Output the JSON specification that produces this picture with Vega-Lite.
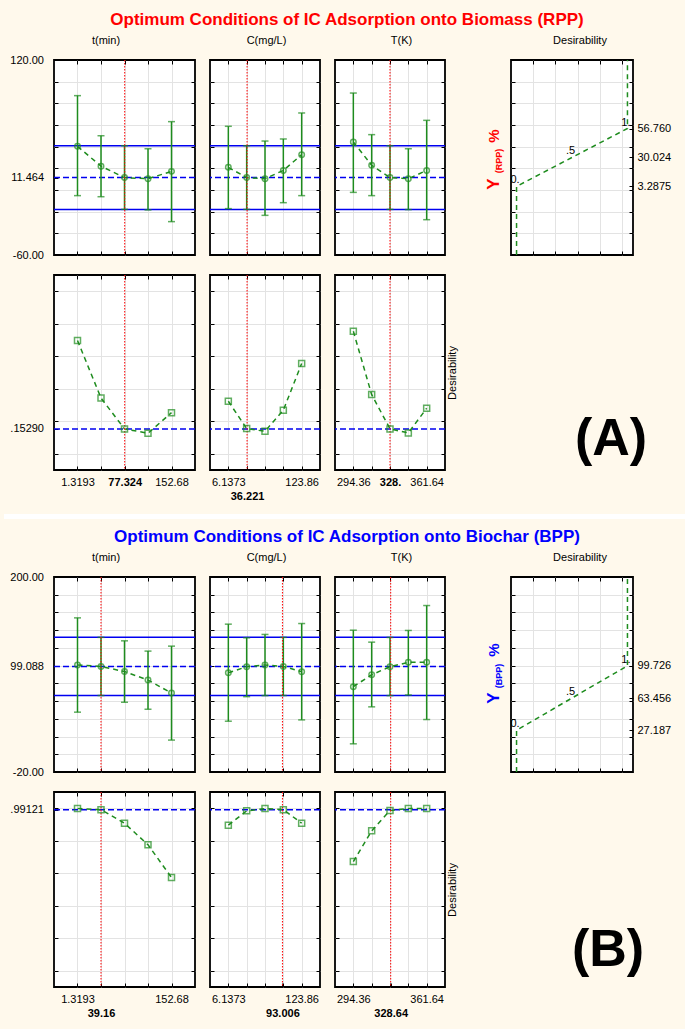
{
"$schema": "https://vega.github.io/schema/vega-lite/v6.json",
"background": "#FFF9EC",
"padding": 0,
"columns": 5,
"spacing": {"row": 20, "column": 15},
"bounds": "flush",
"config": {
  "font": "Liberation Sans",
  "view": {"fill": "white", "stroke": "black", "strokeWidth": 1.8},
  "axis": {"domain": false, "tickSize": -4, "tickColor": "black", "tickWidth": 1, "labelFont": "Liberation Sans", "labelFontSize": 11, "labelColor": "black", "labelPadding": 10, "labelOverlap": false, "labelBound": false, "labelFlush": false, "labelLineHeight": 14, "gridColor": "#E3E3E3", "gridWidth": 1, "minExtent": 0},
  "axisLeft": {"labelPadding": 14.5},
  "axisRight": {"labelPadding": 8}
},
"concat": [
{
 "width": 141, "height": 38, "view": {"fill": "transparent", "stroke": "transparent"},
 "data": {"values": [{}]},
 "layer": [
  {"mark": {"type": "rule", "color": "#FFF9EC", "strokeWidth": 0.5}, "encoding": {"x": {"datum": -0.3546, "type": "quantitative", "scale": {"domain": [0, 1]}, "axis": null}, "x2": {"datum": 4.5035}, "y": {"datum": 1, "type": "quantitative", "scale": {"domain": [0, 1]}, "axis": null}}},
  {"mark": {"type": "text", "text": "Optimum Conditions of IC Adsorption onto Biomass (RPP)", "fontSize": 17, "fontWeight": "bold", "color": "#FF0000", "align": "center", "baseline": "alphabetic"}, "encoding": {"x": {"datum": 2.078, "type": "quantitative", "scale": {"domain": [0, 1]}, "axis": null}, "y": {"datum": 0.395, "type": "quantitative", "scale": {"domain": [0, 1]}, "axis": null}}}
 ]
},
{"width": 10, "height": 10, "view": {"fill": "transparent", "stroke": "transparent"}, "data": {"values": [{}]}, "mark": {"type": "text", "text": ""}},
{"width": 10, "height": 10, "view": {"fill": "transparent", "stroke": "transparent"}, "data": {"values": [{}]}, "mark": {"type": "text", "text": ""}},
{"width": 10, "height": 10, "view": {"fill": "transparent", "stroke": "transparent"}, "data": {"values": [{}]}, "mark": {"type": "text", "text": ""}},
{"width": 10, "height": 10, "view": {"fill": "transparent", "stroke": "transparent"}, "data": {"values": [{}]}, "mark": {"type": "text", "text": ""}},
{
 "width": 141, "height": 195,
 "data": {"values": [{"x":1.3193,"m":40.3,"lo":-5.2,"hi":87.1},{"x":39.16,"m":22.0,"lo":-6.2,"hi":50.1},{"x":77.0,"m":11.464,"lo":-17.9,"hi":40.9},{"x":114.84,"m":10.4,"lo":-18.4,"hi":38.1},{"x":152.68,"m":17.2,"lo":-29.2,"hi":63.1}]},
 "layer": [
  {"data": {"values": [{}]}, "mark": {"type": "rule", "color": "#0000F0", "strokeWidth": 1.5}, "encoding": {"y": {"datum": 40.9, "type": "quantitative", "axis": null}}},
  {"data": {"values": [{}]}, "mark": {"type": "rule", "color": "#0000F0", "strokeWidth": 1.5}, "encoding": {"y": {"datum": -17.9, "type": "quantitative", "axis": null}}},
  {"data": {"values": [{}]}, "mark": {"type": "rule", "color": "#0000F0", "strokeWidth": 1.5, "strokeDash": [6, 3]}, "encoding": {"y": {"datum": 11.464, "type": "quantitative", "axis": null}}},
  {"mark": {"type": "rule", "color": "#1E8C1E", "strokeWidth": 1.5}, "encoding": {"x": {"field": "x", "type": "quantitative", "axis": null}, "y": {"field": "lo", "type": "quantitative", "axis": null}, "y2": {"field": "hi"}}},
  {"mark": {"type": "point", "shape": "M-1,0L1,0", "size": 49, "color": "#1E8C1E", "strokeWidth": 1.5}, "encoding": {"x": {"field": "x", "type": "quantitative", "axis": null}, "y": {"field": "lo", "type": "quantitative", "axis": null}}},
  {"mark": {"type": "point", "shape": "M-1,0L1,0", "size": 49, "color": "#1E8C1E", "strokeWidth": 1.5}, "encoding": {"x": {"field": "x", "type": "quantitative", "axis": null}, "y": {"field": "hi", "type": "quantitative", "axis": null}}},
  {"mark": {"type": "line", "color": "#1E8C1E", "strokeWidth": 1.5, "strokeDash": [5, 4]}, "encoding": {"x": {"field": "x", "type": "quantitative", "scale": {"domain": [-36.52, 190.52], "nice": false, "zero": false}, "axis": {"orient": "bottom", "values": [1.3193,39.16,77.0,114.84,152.68], "labels": false, "grid": false, "title": null}}, "y": {"field": "m", "type": "quantitative", "scale": {"domain": [-60, 120], "nice": false, "zero": false}, "axis": {"orient": "left", "values": [-60,-40,-20,0,20,40,60,80,100,120,11.464], "labelExpr": "datum.value==120?'120.00':datum.value==-60?'-60.00':datum.value==11.464?'11.464':''", "grid": false, "title": null}}}},
  {"data": {"values": [{}]}, "mark": {"type": "rule", "color": "#FF0000", "strokeWidth": 1, "strokeDash": [1.5, 1.5]}, "encoding": {"x": {"datum": 77.324, "type": "quantitative", "axis": null}}},
  {"mark": {"type": "point", "shape": "circle", "size": 30, "color": "#1E8C1E", "strokeWidth": 1.5, "filled": false}, "encoding": {"x": {"field": "x", "type": "quantitative", "axis": {"orient": "top", "values": [1.3193,39.16,77.0,114.84,152.68], "labels": false, "grid": true, "title": null}}, "y": {"field": "m", "type": "quantitative", "axis": {"orient": "right", "values": [-40,-20,0,20,40,60,80,100], "labels": false, "grid": true, "title": null}}}},
  {"data": {"values": [{}]}, "mark": {"type": "text", "text": "t(min)", "fontSize": 11, "align": "center", "baseline": "alphabetic", "color": "black"}, "encoding": {"x": {"datum": 47.2, "type": "quantitative", "axis": null}, "y": {"datum": 134.8, "type": "quantitative", "axis": null}}}
 ],
 "resolve": {"axis": {"x": "independent", "y": "independent"}}
},
{
 "width": 110, "height": 195,
 "data": {"values": [{"x":6.1373,"m":20.9,"lo":-17.2,"hi":58.8},{"x":35.568,"m":11.5,"lo":-17.9,"hi":40.9},{"x":64.998,"m":10.4,"lo":-23.4,"hi":45.2},{"x":94.429,"m":18.1,"lo":-11.7,"hi":47.1},{"x":123.86,"m":32.6,"lo":-5.2,"hi":71.1}]},
 "layer": [
  {"data": {"values": [{}]}, "mark": {"type": "rule", "color": "#0000F0", "strokeWidth": 1.5}, "encoding": {"y": {"datum": 40.9, "type": "quantitative", "axis": null}}},
  {"data": {"values": [{}]}, "mark": {"type": "rule", "color": "#0000F0", "strokeWidth": 1.5}, "encoding": {"y": {"datum": -17.9, "type": "quantitative", "axis": null}}},
  {"data": {"values": [{}]}, "mark": {"type": "rule", "color": "#0000F0", "strokeWidth": 1.5, "strokeDash": [6, 3]}, "encoding": {"y": {"datum": 11.464, "type": "quantitative", "axis": null}}},
  {"mark": {"type": "rule", "color": "#1E8C1E", "strokeWidth": 1.5}, "encoding": {"x": {"field": "x", "type": "quantitative", "axis": null}, "y": {"field": "lo", "type": "quantitative", "axis": null}, "y2": {"field": "hi"}}},
  {"mark": {"type": "point", "shape": "M-1,0L1,0", "size": 49, "color": "#1E8C1E", "strokeWidth": 1.5}, "encoding": {"x": {"field": "x", "type": "quantitative", "axis": null}, "y": {"field": "lo", "type": "quantitative", "axis": null}}},
  {"mark": {"type": "point", "shape": "M-1,0L1,0", "size": 49, "color": "#1E8C1E", "strokeWidth": 1.5}, "encoding": {"x": {"field": "x", "type": "quantitative", "axis": null}, "y": {"field": "hi", "type": "quantitative", "axis": null}}},
  {"mark": {"type": "line", "color": "#1E8C1E", "strokeWidth": 1.5, "strokeDash": [5, 4]}, "encoding": {"x": {"field": "x", "type": "quantitative", "scale": {"domain": [-23.29, 153.29], "nice": false, "zero": false}, "axis": {"orient": "bottom", "values": [6.1373,35.568,64.998,94.429,123.86], "labels": false, "grid": false, "title": null}}, "y": {"field": "m", "type": "quantitative", "scale": {"domain": [-60, 120], "nice": false, "zero": false}, "axis": {"orient": "left", "values": [-40,-20,0,20,40,60,80,100], "labels": false, "grid": false, "title": null}}}},
  {"data": {"values": [{}]}, "mark": {"type": "rule", "color": "#FF0000", "strokeWidth": 1, "strokeDash": [1.5, 1.5]}, "encoding": {"x": {"datum": 36.221, "type": "quantitative", "axis": null}}},
  {"mark": {"type": "point", "shape": "circle", "size": 30, "color": "#1E8C1E", "strokeWidth": 1.5, "filled": false}, "encoding": {"x": {"field": "x", "type": "quantitative", "axis": {"orient": "top", "values": [6.1373,35.568,64.998,94.429,123.86], "labels": false, "grid": true, "title": null}}, "y": {"field": "m", "type": "quantitative", "axis": {"orient": "right", "values": [-40,-20,0,20,40,60,80,100], "labels": false, "grid": true, "title": null}}}},
  {"data": {"values": [{}]}, "mark": {"type": "text", "text": "C(mg/L)", "fontSize": 11, "align": "center", "baseline": "alphabetic", "color": "black"}, "encoding": {"x": {"datum": 67.4, "type": "quantitative", "axis": null}, "y": {"datum": 134.8, "type": "quantitative", "axis": null}}}
 ],
 "resolve": {"axis": {"x": "independent", "y": "independent"}}
},
{
 "width": 110, "height": 195,
 "data": {"values": [{"x":294.36,"m":44.3,"lo":-2.2,"hi":89.5},{"x":311.18,"m":22.8,"lo":-5.2,"hi":51.1},{"x":328.0,"m":11.464,"lo":-17.9,"hi":40.9},{"x":344.82,"m":10.4,"lo":-18.1,"hi":38.1},{"x":361.64,"m":18.1,"lo":-27.4,"hi":64.3}]},
 "layer": [
  {"data": {"values": [{}]}, "mark": {"type": "rule", "color": "#0000F0", "strokeWidth": 1.5}, "encoding": {"y": {"datum": 40.9, "type": "quantitative", "axis": null}}},
  {"data": {"values": [{}]}, "mark": {"type": "rule", "color": "#0000F0", "strokeWidth": 1.5}, "encoding": {"y": {"datum": -17.9, "type": "quantitative", "axis": null}}},
  {"data": {"values": [{}]}, "mark": {"type": "rule", "color": "#0000F0", "strokeWidth": 1.5, "strokeDash": [6, 3]}, "encoding": {"y": {"datum": 11.464, "type": "quantitative", "axis": null}}},
  {"mark": {"type": "rule", "color": "#1E8C1E", "strokeWidth": 1.5}, "encoding": {"x": {"field": "x", "type": "quantitative", "axis": null}, "y": {"field": "lo", "type": "quantitative", "axis": null}, "y2": {"field": "hi"}}},
  {"mark": {"type": "point", "shape": "M-1,0L1,0", "size": 49, "color": "#1E8C1E", "strokeWidth": 1.5}, "encoding": {"x": {"field": "x", "type": "quantitative", "axis": null}, "y": {"field": "lo", "type": "quantitative", "axis": null}}},
  {"mark": {"type": "point", "shape": "M-1,0L1,0", "size": 49, "color": "#1E8C1E", "strokeWidth": 1.5}, "encoding": {"x": {"field": "x", "type": "quantitative", "axis": null}, "y": {"field": "hi", "type": "quantitative", "axis": null}}},
  {"mark": {"type": "line", "color": "#1E8C1E", "strokeWidth": 1.5, "strokeDash": [5, 4]}, "encoding": {"x": {"field": "x", "type": "quantitative", "scale": {"domain": [277.54, 378.46], "nice": false, "zero": false}, "axis": {"orient": "bottom", "values": [294.36,311.18,328.0,344.82,361.64], "labels": false, "grid": false, "title": null}}, "y": {"field": "m", "type": "quantitative", "scale": {"domain": [-60, 120], "nice": false, "zero": false}, "axis": {"orient": "left", "values": [-40,-20,0,20,40,60,80,100], "labels": false, "grid": false, "title": null}}}},
  {"data": {"values": [{}]}, "mark": {"type": "rule", "color": "#FF0000", "strokeWidth": 1, "strokeDash": [1.5, 1.5]}, "encoding": {"x": {"datum": 328.0, "type": "quantitative", "axis": null}}},
  {"mark": {"type": "point", "shape": "circle", "size": 30, "color": "#1E8C1E", "strokeWidth": 1.5, "filled": false}, "encoding": {"x": {"field": "x", "type": "quantitative", "axis": {"orient": "top", "values": [294.36,311.18,328.0,344.82,361.64], "labels": false, "grid": true, "title": null}}, "y": {"field": "m", "type": "quantitative", "axis": {"orient": "right", "values": [-40,-20,0,20,40,60,80,100], "labels": false, "grid": true, "title": null}}}},
  {"data": {"values": [{}]}, "mark": {"type": "text", "text": "T(K)", "fontSize": 11, "align": "center", "baseline": "alphabetic", "color": "black"}, "encoding": {"x": {"datum": 338.5, "type": "quantitative", "axis": null}, "y": {"datum": 134.8, "type": "quantitative", "axis": null}}}
 ],
 "resolve": {"axis": {"x": "independent", "y": "independent"}}
},
{"width": 36, "height": 195, "view": {"fill": "transparent", "stroke": "transparent"}, "data": {"values": [{}]}, "mark": {"type": "text", "text": ""}},
{
 "width": 122, "height": 195,
 "data": {"values": [{"i":0,"d":0,"y":-60},{"i":1,"d":0,"y":3.2875,"lab":"0."},{"i":2,"d":0.5,"y":30.024,"lab":".5"},{"i":3,"d":1,"y":56.76,"lab":"1."},{"i":4,"d":1,"y":120}]},
 "layer": [
  {"mark": {"type": "line", "color": "#1E8C1E", "strokeWidth": 1.5, "strokeDash": [5, 4]}, "encoding": {"x": {"field": "d", "type": "quantitative", "scale": {"domain": [-0.05, 1.05], "nice": false, "zero": false}, "axis": {"orient": "bottom", "values": [0.15,0.35,0.55,0.75,0.95], "labels": false, "grid": true, "title": null}}, "y": {"field": "y", "type": "quantitative", "scale": {"domain": [-60, 120], "nice": false, "zero": false}, "axis": {"orient": "left", "values": [-40,-20,0,20,40,60,80,100], "labels": false, "grid": true, "title": null}}, "order": {"field": "i", "type": "quantitative"}}},
  {"transform": [{"filter": "datum.lab"}], "mark": {"type": "text", "fontSize": 11, "align": "center", "baseline": "alphabetic", "dx": -1.5, "dy": -3, "color": "black"}, "encoding": {"x": {"field": "d", "type": "quantitative", "axis": {"orient": "top", "values": [0.15,0.35,0.55,0.75,0.95], "labels": false, "grid": false, "title": null}}, "y": {"field": "y", "type": "quantitative", "axis": {"orient": "right", "values": [-40,-20,0,20,40,60,80,100,56.76,30.024,3.2875], "labelExpr": "datum.value==56.76?'56.760':datum.value==30.024?'30.024':datum.value==3.2875?'3.2875':''", "grid": false, "title": null}}, "text": {"field": "lab"}}},
  {"data": {"values": [{}]}, "mark": {"type": "text", "text": "Y", "angle": 270, "fontSize": 17, "fontWeight": "bold", "color": "#FF0000", "align": "center", "baseline": "alphabetic"}, "encoding": {"x": {"datum": -0.158, "type": "quantitative", "axis": null}, "y": {"datum": 5.5, "type": "quantitative", "axis": null}}},
  {"data": {"values": [{}]}, "mark": {"type": "text", "text": "(RPP)", "angle": 270, "fontSize": 9, "fontWeight": "bold", "color": "#FF0000", "align": "center", "baseline": "alphabetic"}, "encoding": {"x": {"datum": -0.134, "type": "quantitative", "axis": null}, "y": {"datum": 26.8, "type": "quantitative", "axis": null}}},
  {"data": {"values": [{}]}, "mark": {"type": "text", "text": "%", "angle": 270, "fontSize": 15, "fontWeight": "bold", "color": "#FF0000", "align": "center", "baseline": "alphabetic"}, "encoding": {"x": {"datum": -0.158, "type": "quantitative", "axis": null}, "y": {"datum": 49.8, "type": "quantitative", "axis": null}}},
  {"data": {"values": [{}]}, "mark": {"type": "text", "text": "Desirability", "fontSize": 11, "align": "center", "baseline": "alphabetic", "color": "black"}, "encoding": {"x": {"datum": 0.572, "type": "quantitative", "axis": null}, "y": {"datum": 134.8, "type": "quantitative", "axis": null}}}
 ],
 "resolve": {"axis": {"x": "independent", "y": "independent"}}
},
{
 "width": 141, "height": 195,
 "data": {"values": [{"x":1.3193,"d":0.697},{"x":39.16,"d":0.343},{"x":77.0,"d":0.1529},{"x":114.84,"d":0.126},{"x":152.68,"d":0.253}]},
 "layer": [
  {"data": {"values": [{}]}, "mark": {"type": "rule", "color": "#0000F0", "strokeWidth": 1.5, "strokeDash": [6, 3]}, "encoding": {"y": {"datum": 0.1529, "type": "quantitative", "axis": null}}},
  {"mark": {"type": "line", "color": "#1E8C1E", "strokeWidth": 1.5, "strokeDash": [5, 4]}, "encoding": {"x": {"field": "x", "type": "quantitative", "scale": {"domain": [-36.52, 190.52], "nice": false, "zero": false}, "axis": {"orient": "bottom", "values": [1.3193,39.16,77.0,114.84,152.68,77.324], "labelExpr": "datum.value==1.3193?'1.3193':datum.value==152.68?'152.68':datum.value==77.324?'77.324':''", "labelFontWeight": {"condition": {"test": "datum.value==77.324", "value": "bold"}, "value": "normal"}, "grid": false, "title": null}}, "y": {"field": "d", "type": "quantitative", "scale": {"domain": [-0.1, 1.1], "nice": false, "zero": false}, "axis": {"orient": "left", "values": [0,0.2,0.4,0.6,0.8,1,0.1529], "labelExpr": "datum.value==0.1529?'.15290':''", "grid": false, "title": null}}}},
  {"data": {"values": [{}]}, "mark": {"type": "rule", "color": "#FF0000", "strokeWidth": 1, "strokeDash": [1.5, 1.5]}, "encoding": {"x": {"datum": 77.324, "type": "quantitative", "axis": null}}},
  {"mark": {"type": "point", "shape": "square", "size": 36, "color": "#1E8C1E", "strokeWidth": 1.5, "filled": false}, "encoding": {"x": {"field": "x", "type": "quantitative", "axis": {"orient": "top", "values": [1.3193,39.16,77.0,114.84,152.68], "labels": false, "grid": true, "title": null}}, "y": {"field": "d", "type": "quantitative", "axis": {"orient": "right", "values": [0,0.2,0.4,0.6,0.8,1], "labels": false, "grid": true, "title": null}}}}
 ],
 "resolve": {"axis": {"x": "independent", "y": "independent"}}
},
{
 "width": 110, "height": 195,
 "data": {"values": [{"x":6.1373,"d":0.323},{"x":35.568,"d":0.155},{"x":64.998,"d":0.138},{"x":94.429,"d":0.268},{"x":123.86,"d":0.555}]},
 "layer": [
  {"data": {"values": [{}]}, "mark": {"type": "rule", "color": "#0000F0", "strokeWidth": 1.5, "strokeDash": [6, 3]}, "encoding": {"y": {"datum": 0.1529, "type": "quantitative", "axis": null}}},
  {"mark": {"type": "line", "color": "#1E8C1E", "strokeWidth": 1.5, "strokeDash": [5, 4]}, "encoding": {"x": {"field": "x", "type": "quantitative", "scale": {"domain": [-23.29, 153.29], "nice": false, "zero": false}, "axis": {"orient": "bottom", "values": [6.1373,35.568,64.998,94.429,123.86,36.221], "labelExpr": "datum.value==6.1373?'6.1373':datum.value==123.86?'123.86':datum.value==36.221?['','36.221']:''", "labelFontWeight": {"condition": {"test": "datum.value==36.221", "value": "bold"}, "value": "normal"}, "grid": false, "title": null}}, "y": {"field": "d", "type": "quantitative", "scale": {"domain": [-0.1, 1.1], "nice": false, "zero": false}, "axis": {"orient": "left", "values": [0,0.2,0.4,0.6,0.8,1], "labels": false, "grid": false, "title": null}}}},
  {"data": {"values": [{}]}, "mark": {"type": "rule", "color": "#FF0000", "strokeWidth": 1, "strokeDash": [1.5, 1.5]}, "encoding": {"x": {"datum": 36.221, "type": "quantitative", "axis": null}}},
  {"mark": {"type": "point", "shape": "square", "size": 36, "color": "#1E8C1E", "strokeWidth": 1.5, "filled": false}, "encoding": {"x": {"field": "x", "type": "quantitative", "axis": {"orient": "top", "values": [6.1373,35.568,64.998,94.429,123.86], "labels": false, "grid": true, "title": null}}, "y": {"field": "d", "type": "quantitative", "axis": {"orient": "right", "values": [0,0.2,0.4,0.6,0.8,1], "labels": false, "grid": true, "title": null}}}}
 ],
 "resolve": {"axis": {"x": "independent", "y": "independent"}}
},
{
 "width": 110, "height": 195,
 "data": {"values": [{"x":294.36,"d":0.754},{"x":311.18,"d":0.364},{"x":328.0,"d":0.1529},{"x":344.82,"d":0.128},{"x":361.64,"d":0.28}]},
 "layer": [
  {"data": {"values": [{}]}, "mark": {"type": "rule", "color": "#0000F0", "strokeWidth": 1.5, "strokeDash": [6, 3]}, "encoding": {"y": {"datum": 0.1529, "type": "quantitative", "axis": null}}},
  {"mark": {"type": "line", "color": "#1E8C1E", "strokeWidth": 1.5, "strokeDash": [5, 4]}, "encoding": {"x": {"field": "x", "type": "quantitative", "scale": {"domain": [277.54, 378.46], "nice": false, "zero": false}, "axis": {"orient": "bottom", "values": [294.36,311.18,328.0,344.82,361.64], "labelExpr": "datum.value==294.36?'294.36':datum.value==361.64?'361.64':datum.value==328?'328.':''", "labelFontWeight": {"condition": {"test": "datum.value==328", "value": "bold"}, "value": "normal"}, "grid": false, "title": null}}, "y": {"field": "d", "type": "quantitative", "scale": {"domain": [-0.1, 1.1], "nice": false, "zero": false}, "axis": {"orient": "left", "values": [0,0.2,0.4,0.6,0.8,1], "labels": false, "grid": false, "title": null}}}},
  {"data": {"values": [{}]}, "mark": {"type": "rule", "color": "#FF0000", "strokeWidth": 1, "strokeDash": [1.5, 1.5]}, "encoding": {"x": {"datum": 328.0, "type": "quantitative", "axis": null}}},
  {"mark": {"type": "point", "shape": "square", "size": 36, "color": "#1E8C1E", "strokeWidth": 1.5, "filled": false}, "encoding": {"x": {"field": "x", "type": "quantitative", "axis": {"orient": "top", "values": [294.36,311.18,328.0,344.82,361.64], "labels": false, "grid": true, "title": null}}, "y": {"field": "d", "type": "quantitative", "axis": {"orient": "right", "values": [0,0.2,0.4,0.6,0.8,1], "labels": false, "grid": true, "title": "Desirability", "titleAngle": 270, "titleFontSize": 11, "titleFontWeight": "normal", "titleFont": "Liberation Sans", "titlePadding": 12}}}}
 ],
 "resolve": {"axis": {"x": "independent", "y": "independent"}}
},
{"width": 36, "height": 195, "view": {"fill": "transparent", "stroke": "transparent"}, "data": {"values": [{}]}, "mark": {"type": "text", "text": ""}},
{"width": 122, "height": 195, "view": {"fill": "transparent", "stroke": "transparent"}, "data": {"values": [{}]}, "mark": {"type": "text", "text": "(A)", "fontSize": 52, "fontWeight": "bold", "color": "black", "align": "center", "baseline": "middle"}, "encoding": {"x": {"datum": 0.82, "type": "quantitative", "scale": {"domain": [0, 1]}, "axis": null}, "y": {"datum": 0.16, "type": "quantitative", "scale": {"domain": [0, 1]}, "axis": null}}},
{
 "width": 141, "height": 67, "view": {"fill": "transparent", "stroke": "transparent"},
 "data": {"values": [{}]},
 "layer": [
  {"mark": {"type": "rule", "color": "white", "strokeWidth": 5}, "encoding": {"x": {"datum": -0.3546, "type": "quantitative", "scale": {"domain": [0, 1]}, "axis": null}, "x2": {"datum": 4.5035}, "y": {"datum": 0.6045, "type": "quantitative", "scale": {"domain": [0, 1]}, "axis": null}}},
  {"mark": {"type": "text", "text": "Optimum Conditions of IC Adsorption onto Biochar (BPP)", "fontSize": 17, "fontWeight": "bold", "color": "#0000FF", "align": "center", "baseline": "alphabetic"}, "encoding": {"x": {"datum": 2.078, "type": "quantitative", "scale": {"domain": [0, 1]}, "axis": null}, "y": {"datum": 0.224, "type": "quantitative", "scale": {"domain": [0, 1]}, "axis": null}}}
 ]
},
{"width": 10, "height": 10, "view": {"fill": "transparent", "stroke": "transparent"}, "data": {"values": [{}]}, "mark": {"type": "text", "text": ""}},
{"width": 10, "height": 10, "view": {"fill": "transparent", "stroke": "transparent"}, "data": {"values": [{}]}, "mark": {"type": "text", "text": ""}},
{"width": 10, "height": 10, "view": {"fill": "transparent", "stroke": "transparent"}, "data": {"values": [{}]}, "mark": {"type": "text", "text": ""}},
{"width": 10, "height": 10, "view": {"fill": "transparent", "stroke": "transparent"}, "data": {"values": [{}]}, "mark": {"type": "text", "text": ""}},
{
 "width": 141, "height": 195,
 "data": {"values": [{"x":1.3193,"m":100.7,"lo":47.5,"hi":153.9},{"x":39.16,"m":99.088,"lo":66.3,"hi":131.9},{"x":77.0,"m":93.3,"lo":58.7,"hi":128.0},{"x":114.84,"m":83.7,"lo":50.8,"hi":116.4},{"x":152.68,"m":69.1,"lo":16.0,"hi":122.0}]},
 "layer": [
  {"data": {"values": [{}]}, "mark": {"type": "rule", "color": "#0000F0", "strokeWidth": 1.5}, "encoding": {"y": {"datum": 131.9, "type": "quantitative", "axis": null}}},
  {"data": {"values": [{}]}, "mark": {"type": "rule", "color": "#0000F0", "strokeWidth": 1.5}, "encoding": {"y": {"datum": 66.3, "type": "quantitative", "axis": null}}},
  {"data": {"values": [{}]}, "mark": {"type": "rule", "color": "#0000F0", "strokeWidth": 1.5, "strokeDash": [6, 3]}, "encoding": {"y": {"datum": 99.088, "type": "quantitative", "axis": null}}},
  {"mark": {"type": "rule", "color": "#1E8C1E", "strokeWidth": 1.5}, "encoding": {"x": {"field": "x", "type": "quantitative", "axis": null}, "y": {"field": "lo", "type": "quantitative", "axis": null}, "y2": {"field": "hi"}}},
  {"mark": {"type": "point", "shape": "M-1,0L1,0", "size": 49, "color": "#1E8C1E", "strokeWidth": 1.5}, "encoding": {"x": {"field": "x", "type": "quantitative", "axis": null}, "y": {"field": "lo", "type": "quantitative", "axis": null}}},
  {"mark": {"type": "point", "shape": "M-1,0L1,0", "size": 49, "color": "#1E8C1E", "strokeWidth": 1.5}, "encoding": {"x": {"field": "x", "type": "quantitative", "axis": null}, "y": {"field": "hi", "type": "quantitative", "axis": null}}},
  {"mark": {"type": "line", "color": "#1E8C1E", "strokeWidth": 1.5, "strokeDash": [5, 4]}, "encoding": {"x": {"field": "x", "type": "quantitative", "scale": {"domain": [-36.52, 190.52], "nice": false, "zero": false}, "axis": {"orient": "bottom", "values": [1.3193,39.16,77.0,114.84,152.68], "labels": false, "grid": false, "title": null}}, "y": {"field": "m", "type": "quantitative", "scale": {"domain": [-20, 200], "nice": false, "zero": false}, "axis": {"orient": "left", "values": [-20,0,20,40,60,80,100,120,140,160,180,200,99.088], "labelExpr": "datum.value==200?'200.00':datum.value==-20?'-20.00':datum.value==99.088?'99.088':''", "grid": false, "title": null}}}},
  {"data": {"values": [{}]}, "mark": {"type": "rule", "color": "#FF0000", "strokeWidth": 1, "strokeDash": [1.5, 1.5]}, "encoding": {"x": {"datum": 39.16, "type": "quantitative", "axis": null}}},
  {"mark": {"type": "point", "shape": "circle", "size": 30, "color": "#1E8C1E", "strokeWidth": 1.5, "filled": false}, "encoding": {"x": {"field": "x", "type": "quantitative", "axis": {"orient": "top", "values": [1.3193,39.16,77.0,114.84,152.68], "labels": false, "grid": true, "title": null}}, "y": {"field": "m", "type": "quantitative", "axis": {"orient": "right", "values": [0,20,40,60,80,100,120,140,160,180], "labels": false, "grid": true, "title": null}}}},
  {"data": {"values": [{}]}, "mark": {"type": "text", "text": "t(min)", "fontSize": 11, "align": "center", "baseline": "alphabetic", "color": "black"}, "encoding": {"x": {"datum": 47.2, "type": "quantitative", "axis": null}, "y": {"datum": 218, "type": "quantitative", "axis": null}}}
 ],
 "resolve": {"axis": {"x": "independent", "y": "independent"}}
},
{
 "width": 110, "height": 195,
 "data": {"values": [{"x":6.1373,"m":92.0,"lo":37.3,"hi":146.8},{"x":35.568,"m":98.8,"lo":65.0,"hi":131.4},{"x":64.998,"m":100.8,"lo":66.2,"hi":135.2},{"x":94.429,"m":99.088,"lo":66.3,"hi":131.9},{"x":123.86,"m":93.2,"lo":38.8,"hi":147.5}]},
 "layer": [
  {"data": {"values": [{}]}, "mark": {"type": "rule", "color": "#0000F0", "strokeWidth": 1.5}, "encoding": {"y": {"datum": 131.9, "type": "quantitative", "axis": null}}},
  {"data": {"values": [{}]}, "mark": {"type": "rule", "color": "#0000F0", "strokeWidth": 1.5}, "encoding": {"y": {"datum": 66.3, "type": "quantitative", "axis": null}}},
  {"data": {"values": [{}]}, "mark": {"type": "rule", "color": "#0000F0", "strokeWidth": 1.5, "strokeDash": [6, 3]}, "encoding": {"y": {"datum": 99.088, "type": "quantitative", "axis": null}}},
  {"mark": {"type": "rule", "color": "#1E8C1E", "strokeWidth": 1.5}, "encoding": {"x": {"field": "x", "type": "quantitative", "axis": null}, "y": {"field": "lo", "type": "quantitative", "axis": null}, "y2": {"field": "hi"}}},
  {"mark": {"type": "point", "shape": "M-1,0L1,0", "size": 49, "color": "#1E8C1E", "strokeWidth": 1.5}, "encoding": {"x": {"field": "x", "type": "quantitative", "axis": null}, "y": {"field": "lo", "type": "quantitative", "axis": null}}},
  {"mark": {"type": "point", "shape": "M-1,0L1,0", "size": 49, "color": "#1E8C1E", "strokeWidth": 1.5}, "encoding": {"x": {"field": "x", "type": "quantitative", "axis": null}, "y": {"field": "hi", "type": "quantitative", "axis": null}}},
  {"mark": {"type": "line", "color": "#1E8C1E", "strokeWidth": 1.5, "strokeDash": [5, 4]}, "encoding": {"x": {"field": "x", "type": "quantitative", "scale": {"domain": [-23.29, 153.29], "nice": false, "zero": false}, "axis": {"orient": "bottom", "values": [6.1373,35.568,64.998,94.429,123.86], "labels": false, "grid": false, "title": null}}, "y": {"field": "m", "type": "quantitative", "scale": {"domain": [-20, 200], "nice": false, "zero": false}, "axis": {"orient": "left", "values": [0,20,40,60,80,100,120,140,160,180], "labels": false, "grid": false, "title": null}}}},
  {"data": {"values": [{}]}, "mark": {"type": "rule", "color": "#FF0000", "strokeWidth": 1, "strokeDash": [1.5, 1.5]}, "encoding": {"x": {"datum": 93.006, "type": "quantitative", "axis": null}}},
  {"mark": {"type": "point", "shape": "circle", "size": 30, "color": "#1E8C1E", "strokeWidth": 1.5, "filled": false}, "encoding": {"x": {"field": "x", "type": "quantitative", "axis": {"orient": "top", "values": [6.1373,35.568,64.998,94.429,123.86], "labels": false, "grid": true, "title": null}}, "y": {"field": "m", "type": "quantitative", "axis": {"orient": "right", "values": [0,20,40,60,80,100,120,140,160,180], "labels": false, "grid": true, "title": null}}}},
  {"data": {"values": [{}]}, "mark": {"type": "text", "text": "C(mg/L)", "fontSize": 11, "align": "center", "baseline": "alphabetic", "color": "black"}, "encoding": {"x": {"datum": 67.4, "type": "quantitative", "axis": null}, "y": {"datum": 218, "type": "quantitative", "axis": null}}}
 ],
 "resolve": {"axis": {"x": "independent", "y": "independent"}}
},
{
 "width": 110, "height": 195,
 "data": {"values": [{"x":294.36,"m":76.3,"lo":11.8,"hi":140.0},{"x":311.18,"m":89.7,"lo":53.5,"hi":126.5},{"x":328.0,"m":98.8,"lo":66.2,"hi":131.8},{"x":344.82,"m":103.7,"lo":66.9,"hi":139.7},{"x":361.64,"m":103.8,"lo":39.2,"hi":167.8}]},
 "layer": [
  {"data": {"values": [{}]}, "mark": {"type": "rule", "color": "#0000F0", "strokeWidth": 1.5}, "encoding": {"y": {"datum": 131.9, "type": "quantitative", "axis": null}}},
  {"data": {"values": [{}]}, "mark": {"type": "rule", "color": "#0000F0", "strokeWidth": 1.5}, "encoding": {"y": {"datum": 66.3, "type": "quantitative", "axis": null}}},
  {"data": {"values": [{}]}, "mark": {"type": "rule", "color": "#0000F0", "strokeWidth": 1.5, "strokeDash": [6, 3]}, "encoding": {"y": {"datum": 99.088, "type": "quantitative", "axis": null}}},
  {"mark": {"type": "rule", "color": "#1E8C1E", "strokeWidth": 1.5}, "encoding": {"x": {"field": "x", "type": "quantitative", "axis": null}, "y": {"field": "lo", "type": "quantitative", "axis": null}, "y2": {"field": "hi"}}},
  {"mark": {"type": "point", "shape": "M-1,0L1,0", "size": 49, "color": "#1E8C1E", "strokeWidth": 1.5}, "encoding": {"x": {"field": "x", "type": "quantitative", "axis": null}, "y": {"field": "lo", "type": "quantitative", "axis": null}}},
  {"mark": {"type": "point", "shape": "M-1,0L1,0", "size": 49, "color": "#1E8C1E", "strokeWidth": 1.5}, "encoding": {"x": {"field": "x", "type": "quantitative", "axis": null}, "y": {"field": "hi", "type": "quantitative", "axis": null}}},
  {"mark": {"type": "line", "color": "#1E8C1E", "strokeWidth": 1.5, "strokeDash": [5, 4]}, "encoding": {"x": {"field": "x", "type": "quantitative", "scale": {"domain": [277.54, 378.46], "nice": false, "zero": false}, "axis": {"orient": "bottom", "values": [294.36,311.18,328.0,344.82,361.64], "labels": false, "grid": false, "title": null}}, "y": {"field": "m", "type": "quantitative", "scale": {"domain": [-20, 200], "nice": false, "zero": false}, "axis": {"orient": "left", "values": [0,20,40,60,80,100,120,140,160,180], "labels": false, "grid": false, "title": null}}}},
  {"data": {"values": [{}]}, "mark": {"type": "rule", "color": "#FF0000", "strokeWidth": 1, "strokeDash": [1.5, 1.5]}, "encoding": {"x": {"datum": 328.64, "type": "quantitative", "axis": null}}},
  {"mark": {"type": "point", "shape": "circle", "size": 30, "color": "#1E8C1E", "strokeWidth": 1.5, "filled": false}, "encoding": {"x": {"field": "x", "type": "quantitative", "axis": {"orient": "top", "values": [294.36,311.18,328.0,344.82,361.64], "labels": false, "grid": true, "title": null}}, "y": {"field": "m", "type": "quantitative", "axis": {"orient": "right", "values": [0,20,40,60,80,100,120,140,160,180], "labels": false, "grid": true, "title": null}}}},
  {"data": {"values": [{}]}, "mark": {"type": "text", "text": "T(K)", "fontSize": 11, "align": "center", "baseline": "alphabetic", "color": "black"}, "encoding": {"x": {"datum": 338.5, "type": "quantitative", "axis": null}, "y": {"datum": 218, "type": "quantitative", "axis": null}}}
 ],
 "resolve": {"axis": {"x": "independent", "y": "independent"}}
},
{"width": 36, "height": 195, "view": {"fill": "transparent", "stroke": "transparent"}, "data": {"values": [{}]}, "mark": {"type": "text", "text": ""}},
{
 "width": 122, "height": 195,
 "data": {"values": [{"i":0,"d":0,"y":-20},{"i":1,"d":0,"y":27.187,"lab":"0."},{"i":2,"d":0.5,"y":63.456,"lab":".5"},{"i":3,"d":1,"y":99.726,"lab":"1."},{"i":4,"d":1,"y":200}]},
 "layer": [
  {"mark": {"type": "line", "color": "#1E8C1E", "strokeWidth": 1.5, "strokeDash": [5, 4]}, "encoding": {"x": {"field": "d", "type": "quantitative", "scale": {"domain": [-0.05, 1.05], "nice": false, "zero": false}, "axis": {"orient": "bottom", "values": [0.15,0.35,0.55,0.75,0.95], "labels": false, "grid": true, "title": null}}, "y": {"field": "y", "type": "quantitative", "scale": {"domain": [-20, 200], "nice": false, "zero": false}, "axis": {"orient": "left", "values": [0,20,40,60,80,100,120,140,160,180], "labels": false, "grid": true, "title": null}}, "order": {"field": "i", "type": "quantitative"}}},
  {"transform": [{"filter": "datum.lab"}], "mark": {"type": "text", "fontSize": 11, "align": "center", "baseline": "alphabetic", "dx": -1.5, "dy": -3, "color": "black"}, "encoding": {"x": {"field": "d", "type": "quantitative", "axis": {"orient": "top", "values": [0.15,0.35,0.55,0.75,0.95], "labels": false, "grid": false, "title": null}}, "y": {"field": "y", "type": "quantitative", "axis": {"orient": "right", "values": [0,20,40,60,80,100,120,140,160,180,99.726,63.456,27.187], "labelExpr": "datum.value==99.726?'99.726':datum.value==63.456?'63.456':datum.value==27.187?'27.187':''", "grid": false, "title": null}}, "text": {"field": "lab"}}},
  {"data": {"values": [{}]}, "mark": {"type": "text", "text": "Y", "angle": 270, "fontSize": 17, "fontWeight": "bold", "color": "#0000FF", "align": "center", "baseline": "alphabetic"}, "encoding": {"x": {"datum": -0.158, "type": "quantitative", "axis": null}, "y": {"datum": 63.5, "type": "quantitative", "axis": null}}},
  {"data": {"values": [{}]}, "mark": {"type": "text", "text": "(BPP)", "angle": 270, "fontSize": 9, "fontWeight": "bold", "color": "#0000FF", "align": "center", "baseline": "alphabetic"}, "encoding": {"x": {"datum": -0.134, "type": "quantitative", "axis": null}, "y": {"datum": 88.3, "type": "quantitative", "axis": null}}},
  {"data": {"values": [{}]}, "mark": {"type": "text", "text": "%", "angle": 270, "fontSize": 15, "fontWeight": "bold", "color": "#0000FF", "align": "center", "baseline": "alphabetic"}, "encoding": {"x": {"datum": -0.158, "type": "quantitative", "axis": null}, "y": {"datum": 117.6, "type": "quantitative", "axis": null}}},
  {"data": {"values": [{}]}, "mark": {"type": "text", "text": "Desirability", "fontSize": 11, "align": "center", "baseline": "alphabetic", "color": "black"}, "encoding": {"x": {"datum": 0.572, "type": "quantitative", "axis": null}, "y": {"datum": 218, "type": "quantitative", "axis": null}}}
 ],
 "resolve": {"axis": {"x": "independent", "y": "independent"}}
},
{
 "width": 141, "height": 195,
 "data": {"values": [{"x":1.3193,"d":0.998},{"x":39.16,"d":0.9912},{"x":77.0,"d":0.908},{"x":114.84,"d":0.775},{"x":152.68,"d":0.574}]},
 "layer": [
  {"data": {"values": [{}]}, "mark": {"type": "rule", "color": "#0000F0", "strokeWidth": 1.5, "strokeDash": [6, 3]}, "encoding": {"y": {"datum": 0.99121, "type": "quantitative", "axis": null}}},
  {"mark": {"type": "line", "color": "#1E8C1E", "strokeWidth": 1.5, "strokeDash": [5, 4]}, "encoding": {"x": {"field": "x", "type": "quantitative", "scale": {"domain": [-36.52, 190.52], "nice": false, "zero": false}, "axis": {"orient": "bottom", "values": [1.3193,39.16,77.0,114.84,152.68], "labelExpr": "datum.value==1.3193?'1.3193':datum.value==152.68?'152.68':datum.value==39.16?['','39.16']:''", "labelFontWeight": {"condition": {"test": "datum.value==39.16", "value": "bold"}, "value": "normal"}, "grid": false, "title": null}}, "y": {"field": "d", "type": "quantitative", "scale": {"domain": [-0.1, 1.1], "nice": false, "zero": false}, "axis": {"orient": "left", "values": [0,0.2,0.4,0.6,0.8,1,0.99121], "labelExpr": "datum.value==0.99121?'.99121':''", "grid": false, "title": null}}}},
  {"data": {"values": [{}]}, "mark": {"type": "rule", "color": "#FF0000", "strokeWidth": 1, "strokeDash": [1.5, 1.5]}, "encoding": {"x": {"datum": 39.16, "type": "quantitative", "axis": null}}},
  {"mark": {"type": "point", "shape": "square", "size": 36, "color": "#1E8C1E", "strokeWidth": 1.5, "filled": false}, "encoding": {"x": {"field": "x", "type": "quantitative", "axis": {"orient": "top", "values": [1.3193,39.16,77.0,114.84,152.68], "labels": false, "grid": true, "title": null}}, "y": {"field": "d", "type": "quantitative", "axis": {"orient": "right", "values": [0,0.2,0.4,0.6,0.8,1], "labels": false, "grid": true, "title": null}}}}
 ],
 "resolve": {"axis": {"x": "independent", "y": "independent"}}
},
{
 "width": 110, "height": 195,
 "data": {"values": [{"x":6.1373,"d":0.896},{"x":35.568,"d":0.984},{"x":64.998,"d":0.998},{"x":94.429,"d":0.9912},{"x":123.86,"d":0.908}]},
 "layer": [
  {"data": {"values": [{}]}, "mark": {"type": "rule", "color": "#0000F0", "strokeWidth": 1.5, "strokeDash": [6, 3]}, "encoding": {"y": {"datum": 0.99121, "type": "quantitative", "axis": null}}},
  {"mark": {"type": "line", "color": "#1E8C1E", "strokeWidth": 1.5, "strokeDash": [5, 4]}, "encoding": {"x": {"field": "x", "type": "quantitative", "scale": {"domain": [-23.29, 153.29], "nice": false, "zero": false}, "axis": {"orient": "bottom", "values": [6.1373,35.568,64.998,94.429,123.86,93.006], "labelExpr": "datum.value==6.1373?'6.1373':datum.value==123.86?'123.86':datum.value==93.006?['','93.006']:''", "labelFontWeight": {"condition": {"test": "datum.value==93.006", "value": "bold"}, "value": "normal"}, "grid": false, "title": null}}, "y": {"field": "d", "type": "quantitative", "scale": {"domain": [-0.1, 1.1], "nice": false, "zero": false}, "axis": {"orient": "left", "values": [0,0.2,0.4,0.6,0.8,1], "labels": false, "grid": false, "title": null}}}},
  {"data": {"values": [{}]}, "mark": {"type": "rule", "color": "#FF0000", "strokeWidth": 1, "strokeDash": [1.5, 1.5]}, "encoding": {"x": {"datum": 93.006, "type": "quantitative", "axis": null}}},
  {"mark": {"type": "point", "shape": "square", "size": 36, "color": "#1E8C1E", "strokeWidth": 1.5, "filled": false}, "encoding": {"x": {"field": "x", "type": "quantitative", "axis": {"orient": "top", "values": [6.1373,35.568,64.998,94.429,123.86], "labels": false, "grid": true, "title": null}}, "y": {"field": "d", "type": "quantitative", "axis": {"orient": "right", "values": [0,0.2,0.4,0.6,0.8,1], "labels": false, "grid": true, "title": null}}}}
 ],
 "resolve": {"axis": {"x": "independent", "y": "independent"}}
},
{
 "width": 110, "height": 195,
 "data": {"values": [{"x":294.36,"d":0.672},{"x":311.18,"d":0.861},{"x":328.0,"d":0.986},{"x":344.82,"d":0.999},{"x":361.64,"d":0.999}]},
 "layer": [
  {"data": {"values": [{}]}, "mark": {"type": "rule", "color": "#0000F0", "strokeWidth": 1.5, "strokeDash": [6, 3]}, "encoding": {"y": {"datum": 0.99121, "type": "quantitative", "axis": null}}},
  {"mark": {"type": "line", "color": "#1E8C1E", "strokeWidth": 1.5, "strokeDash": [5, 4]}, "encoding": {"x": {"field": "x", "type": "quantitative", "scale": {"domain": [277.54, 378.46], "nice": false, "zero": false}, "axis": {"orient": "bottom", "values": [294.36,311.18,328.0,344.82,361.64,328.64], "labelExpr": "datum.value==294.36?'294.36':datum.value==361.64?'361.64':datum.value==328.64?['','328.64']:''", "labelFontWeight": {"condition": {"test": "datum.value==328.64", "value": "bold"}, "value": "normal"}, "grid": false, "title": null}}, "y": {"field": "d", "type": "quantitative", "scale": {"domain": [-0.1, 1.1], "nice": false, "zero": false}, "axis": {"orient": "left", "values": [0,0.2,0.4,0.6,0.8,1], "labels": false, "grid": false, "title": null}}}},
  {"data": {"values": [{}]}, "mark": {"type": "rule", "color": "#FF0000", "strokeWidth": 1, "strokeDash": [1.5, 1.5]}, "encoding": {"x": {"datum": 328.64, "type": "quantitative", "axis": null}}},
  {"mark": {"type": "point", "shape": "square", "size": 36, "color": "#1E8C1E", "strokeWidth": 1.5, "filled": false}, "encoding": {"x": {"field": "x", "type": "quantitative", "axis": {"orient": "top", "values": [294.36,311.18,328.0,344.82,361.64], "labels": false, "grid": true, "title": null}}, "y": {"field": "d", "type": "quantitative", "axis": {"orient": "right", "values": [0,0.2,0.4,0.6,0.8,1], "labels": false, "grid": true, "title": "Desirability", "titleAngle": 270, "titleFontSize": 11, "titleFontWeight": "normal", "titleFont": "Liberation Sans", "titlePadding": 12}}}}
 ],
 "resolve": {"axis": {"x": "independent", "y": "independent"}}
},
{"width": 36, "height": 195, "view": {"fill": "transparent", "stroke": "transparent"}, "data": {"values": [{}]}, "mark": {"type": "text", "text": ""}},
{"width": 122, "height": 195, "view": {"fill": "transparent", "stroke": "transparent"}, "data": {"values": [{}]}, "mark": {"type": "text", "text": "(B)", "fontSize": 52, "fontWeight": "bold", "color": "black", "align": "center", "baseline": "middle"}, "encoding": {"x": {"datum": 0.795, "type": "quantitative", "scale": {"domain": [0, 1]}, "axis": null}, "y": {"datum": 0.19, "type": "quantitative", "scale": {"domain": [0, 1]}, "axis": null}}},
{
 "width": 141, "height": 24, "view": {"fill": "transparent", "stroke": "transparent"},
 "data": {"values": [{}]},
 "mark": {"type": "rule", "color": "#FFF9EC", "strokeWidth": 0.5},
 "encoding": {"x": {"datum": -0.3546, "type": "quantitative", "scale": {"domain": [0, 1]}, "axis": null}, "x2": {"datum": 4.5035}, "y": {"datum": 0, "type": "quantitative", "scale": {"domain": [0, 1]}, "axis": null}}
}
]
}
